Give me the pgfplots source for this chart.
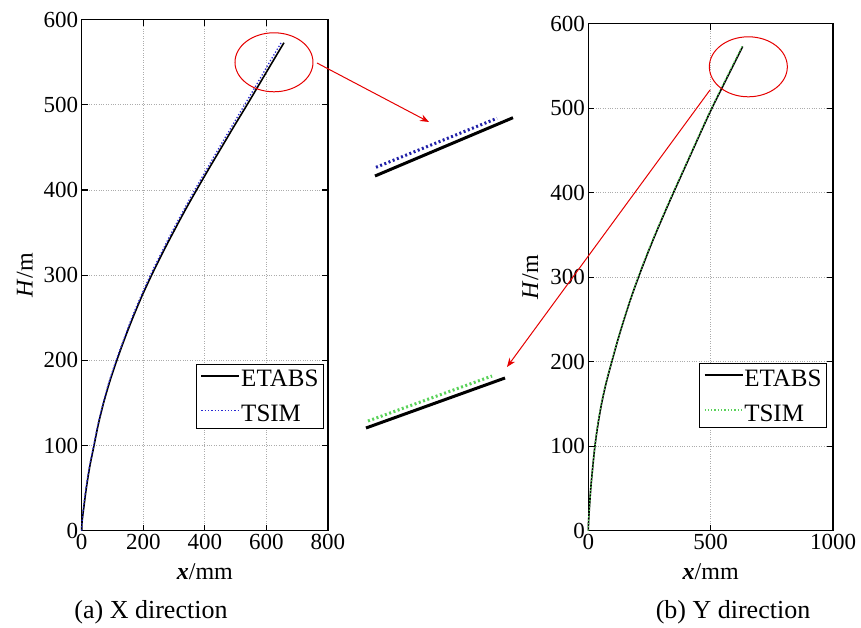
\documentclass[border=0pt]{standalone}
\usepackage{fontspec}
\setmainfont{Liberation Serif}
\usepackage{pgfplots}
\pgfplotsset{compat=1.18}
\usetikzlibrary{arrows.meta}
\definecolor{tsimgreen}{RGB}{90,210,90}
\definecolor{tsimblue}{RGB}{40,40,210}

\pgfplotstableread{
x H
0 0
1 10
6 25
15 50
26 75
40 100
54 125
71 150
91 175
114 200
139 225
166 250
195 275
227 300
261 325
297 350
334 375
373 400
413 425
454 450
495 475
537 500
578 525
619 550
657 573
}\xetabs
\pgfplotstableread{
x H
0 0
1 10
5 25
14 50
25 75
39 100
53 125
70 150
89 175
112 200
137 225
163 250
192 275
223 300
257 325
292 350
329 375
367 400
407 425
447 450
488 475
529 500
570 525
610 550
648 573
}\xtsim
\pgfplotstableread{
x H
0 0
1 10
4 25
10 50
18 75
27 100
39 125
54 150
73 175
96 200
120 225
146 250
174 275
205 300
238 325
273 350
310 375
348 400
387 425
426 450
465 475
505 500
548 525
591 550
631 573
}\yetabs
\pgfplotstableread{
x H
0 0
1 10
4 25
10 50
18 75
27 100
38 125
53 150
72 175
95 200
119 225
145 250
173 275
203 300
236 325
271 350
308 375
346 400
385 425
424 450
463 475
503 500
545 525
588 550
628 573
}\ytsim

\pgfplotsset{
  mystyle/.style={
    scale only axis, anchor=south west, clip=false,
    xmin=0, ymin=0, ymax=600,
    ytick={0,100,...,600},
    grid=major,
    major grid style={dotted, line width=0.9pt, gray!65},
    axis line style={line width=1.3pt},
    every tick/.style={line width=1.2pt, black},
    major tick length=6pt,
    tick align=inside,
    scaled ticks=false,
    /pgf/number format/assume math mode=true,
    /pgf/number format/1000 sep={},
    ticklabel style={font=\fontsize{23}{26}\selectfont},
    label style={font=\fontsize{24}{28}\selectfont},
    xlabel={\textbf{\textit{x}}/mm},
    ylabel={\textit{H}/m},
    xlabel style={at={(axis description cs:0.5,0)}, anchor=center, yshift=-41pt},
    legend cell align=left,
    legend image code/.code={\draw[##1] (0pt,0.3em) -- (38pt,0.3em);},
    legend style={anchor=north east, draw=black, line width=1.3pt,
      inner xsep=4pt, inner ysep=3.5pt,
      font=\fontsize{25}{28}\selectfont,
      nodes={inner sep=1pt, text height=18pt, text depth=2pt},
      row sep=13pt},
  }
}

\begin{document}
\begin{tikzpicture}
\path[use as bounding box] (0pt,0pt) rectangle (861pt,627pt);

% (a) X direction
\begin{axis}[mystyle,
  at={(81.7pt,96.3pt)}, width=246.3pt, height=511pt,
  xmax=800, xtick={0,200,...,800},
  ylabel style={at={(axis description cs:-0.231,0.5)}, anchor=center},
  legend style={at={(0.984,0.327)}}]
\addplot[black, line width=1.6pt, smooth] table[x=x,y=H] {\xetabs};
\addlegendentry{ETABS}
\addplot[tsimblue, line width=1.3pt, dotted, smooth] table[x=x,y=H] {\xtsim};
\addlegendentry{TSIM}
\draw[red!90!black, line width=1pt] (axis cs:624.6,550) ellipse [x radius=39pt, y radius=29.5pt];
\end{axis}

% (b) Y direction
\begin{axis}[mystyle,
  at={(588.3pt,96.3pt)}, width=244.7pt, height=507pt,
  xmax=1000, xtick={0,500,1000},
  ylabel style={at={(axis description cs:-0.237,0.5)}, anchor=center},
  legend style={at={(0.976,0.331)}}]
\addplot[black, line width=1.6pt, smooth] table[x=x,y=H] {\yetabs};
\addlegendentry{ETABS}
\addplot[tsimgreen, line width=1.3pt, dotted, smooth] table[x=x,y=H] {\ytsim};
\addlegendentry{TSIM}
\draw[red!90!black, line width=1pt] (axis cs:654,549) ellipse [x radius=39pt, y radius=30pt];
\end{axis}

% zoomed details between the two plots (pixel-based coordinates)
\begin{axis}[hide axis, scale only axis, clip=false, anchor=south west,
  at={(340pt,187pt)}, width=200pt, height=340pt,
  xmin=340, xmax=540, ymin=187, ymax=527]
\addplot[black, line width=3pt] coordinates {(375,451) (513,509.3)};
\addplot[tsimblue!80!black, line width=3pt, dash pattern=on 2pt off 2.5pt] coordinates {(376,459.7) (497,508.7)};
\addplot[black, line width=3pt] coordinates {(366,199) (505,249)};
\addplot[tsimgreen, line width=3pt, dash pattern=on 2pt off 2.5pt] coordinates {(368,206) (492,251)};
\draw[red!90!black, line width=1pt, -{Stealth[length=9pt,width=7pt]}] (axis cs:317,564) -- (axis cs:429,505);
\draw[red!90!black, line width=1pt, -{Stealth[length=9pt,width=7pt]}] (axis cs:710,537) -- (axis cs:507,260);
\end{axis}

\node[anchor=base, font=\fontsize{26}{30}\selectfont] at (151pt,9pt) {(a) X direction};
\node[anchor=base, font=\fontsize{26}{30}\selectfont] at (733pt,9pt) {(b) Y direction};
\end{tikzpicture}
\end{document}
